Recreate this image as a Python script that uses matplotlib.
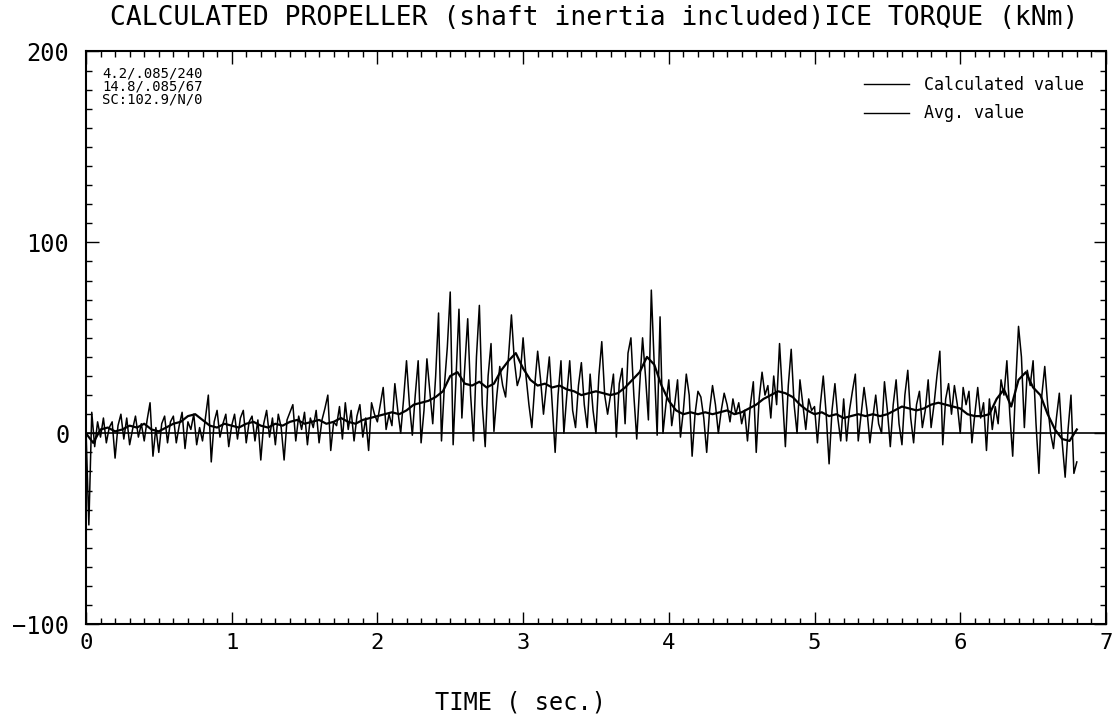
"""
Recreate the plotter-style ice torque chart: calculated propeller torque
(shaft inertia included) with its running average.
"""

import numpy as np
import matplotlib
matplotlib.use("Agg")
import matplotlib.pyplot as plt
from matplotlib.ticker import MultipleLocator

FONT = "DejaVu Sans Mono"

# calculated value, sampled every 0.02 s from t = 0.00 to 6.80 s
CALC_DT = 0.02
calc_values = [
    3, -48, 11, -7, 6, -2, 8, -5, 3, 6,
    -13, 4, 10, -3, 8, -6, 2, 9, -2, 5,
    -4, 7, 16, -12, 3, -10, 5, 9, -5, 6,
    9, -5, 4, 11, -8, 6, 2, 10, -6, 3,
    -4, 8, 20, -15, 6, 12, -2, 5, 10, -7,
    4, 10, -3, 8, 12, -5, 6, 9, -4, 7,
    -14, 5, 12, -2, 8, -6, 10, 3, -14, 7,
    11, 15, -4, 9, 2, 11, -6, 8, 3, 12,
    -5, 7, 13, 20, -9, 6, 4, 14, -3, 16,
    2, 12, -4, 9, 15, -2, 8, -9, 16, 10,
    6, 15, 24, 2, 10, 4, 26, 12, 0, 18,
    38, 15, -1, 20, 38, -5, 12, 39, 22, 5,
    30, 63, -4, 25, 45, 74, -6, 30, 65, 8,
    35, 60, 20, -4, 40, 67, 15, -7, 30, 47,
    1, 20, 35, 25, 19, 40, 62, 38, 25, 30,
    50, 30, 15, 3, 25, 43, 28, 10, 25, 40,
    15, -10, 20, 38, 0, 20, 38, 12, 3, 25,
    37, 15, 3, 31, 12, 0, 30, 48, 20, 10,
    20, 31, -2, 26, 34, 5, 42, 50, 20, -3,
    25, 50, 30, 7, 75, 36, -1, 61, 0, 15,
    28, 4, 15, 28, -2, 12, 31, 20, -12, 10,
    22, 19, 8, -10, 12, 25, 15, 0, 12, 21,
    15, 6, 18, 10, 16, 5, 12, -4, 15, 27,
    -10, 18, 32, 20, 25, 8, 30, 15, 47, 20,
    -7, 25, 44, 15, 0, 28, 15, 2, 18, 12,
    14, -5, 15, 30, 10, -16, 12, 26, 8, -4,
    18, -4, 12, 22, 31, -4, 10, 24, 12, -5,
    8, 20, 5, 0, 27, 12, -7, 15, 28, 5,
    -6, 20, 33, 8, -5, 15, 22, 3, 12, 28,
    3, 15, 30, 43, -6, 18, 26, 10, 25, 15,
    0, 24, 15, 22, -5, 10, 24, 8, 16, -9,
    18, 2, 14, 5, 28, 20, 38, 10, -12, 25,
    56, 40, 3, 33, 25, 38, 5, -21, 20, 35,
    15, 0, -8, 8, 21, -5, -23, 2, 20, -21,
    -15,
]

# average value, sampled every 0.05 s from t = 0.00 to 6.80 s
AVG_DT = 0.05
avg_values = [
    0, -5, 2, 3, 1, 2, 4, 3, 5, 2,
    1, 3, 5, 6, 9, 10, 7, 4, 3, 5,
    4, 3, 5, 6, 4, 3, 5, 4, 6, 7,
    5, 6, 7, 5, 6, 8, 6, 5, 7, 8,
    9, 10, 11, 10, 12, 15, 16, 17, 19, 22,
    30, 32, 26, 25, 27, 24, 26, 33, 38, 42,
    34, 28, 25, 26, 24, 25, 23, 22, 20, 21,
    22, 21, 20, 21, 24, 28, 32, 40, 36, 25,
    17, 12, 10, 11, 10, 11, 10, 11, 12, 10,
    11, 13, 15, 18, 20, 22, 21, 19, 15, 12,
    10, 11, 9, 10, 8, 9, 10, 9, 10, 9,
    10, 12, 14, 13, 12, 13, 15, 16, 15, 14,
    13, 10, 9, 9, 10, 18, 23, 14, 28, 32,
    24, 20, 10, 2, -3, -4, 2,
]

info_lines = ["4.2/.085/240", "14.8/.085/67", "SC:102.9/N/0"]
y_ticks = [-100, 0, 100, 200]
x_ticks = [0, 1, 2, 3, 4, 5, 6, 7]


def plot_torque():
    t_calc = np.arange(len(calc_values)) * CALC_DT
    t_avg = np.arange(len(avg_values)) * AVG_DT

    fig = plt.figure(figsize=(11.16, 7.15), dpi=100)
    ax = fig.add_axes([0.077, 0.127, 0.914, 0.801])

    ax.plot(t_calc, calc_values, color="black", lw=1.1, label="Calculated value")
    ax.plot(t_avg, avg_values, color="black", lw=1.6, label="Avg. value")
    ax.axhline(0, color="black", lw=1.2)

    ax.set_xlim(0, 7)
    ax.set_ylim(-100, 200)
    ax.set_xticks(x_ticks)
    ax.set_yticks(y_ticks)
    ax.xaxis.set_minor_locator(MultipleLocator(0.1))
    ax.yaxis.set_minor_locator(MultipleLocator(10))
    ax.tick_params(which="both", direction="in", top=True, right=True,
                   width=1.0, colors="black")
    ax.tick_params(which="major", length=9)
    ax.tick_params(which="minor", length=4)
    ax.tick_params(axis="x", which="major", pad=6, labelsize=16)
    ax.tick_params(axis="y", which="major", pad=12, labelsize=17)
    for lab in ax.get_xticklabels() + ax.get_yticklabels():
        lab.set_family(FONT)
    for sp in ax.spines.values():
        sp.set_linewidth(1.5)

    for i, line in enumerate(info_lines):
        ax.text(0.016, 0.962 - i * 0.023, line, transform=ax.transAxes,
                family=FONT, fontsize=10, va="center", ha="left")

    leg = ax.legend(loc="upper right", bbox_to_anchor=(0.978, 0.958),
                    frameon=False, prop={"family": FONT, "size": 12},
                    handlelength=2.7, handletextpad=0.85, labelspacing=0.65,
                    borderpad=0, borderaxespad=0)
    for h in leg.get_lines():
        h.set_linewidth(1.0)

    fig.text(0.532, 0.975,
             "CALCULATED PROPELLER (shaft inertia included)ICE TORQUE (kNm)",
             family=FONT, fontsize=19, ha="center", va="center")
    fig.text(0.466, 0.017, "TIME ( sec.)", family=FONT, fontsize=17,
             ha="center", va="center")

    fig.savefig("out.png", dpi=100)


if __name__ == "__main__":
    plot_torque()
